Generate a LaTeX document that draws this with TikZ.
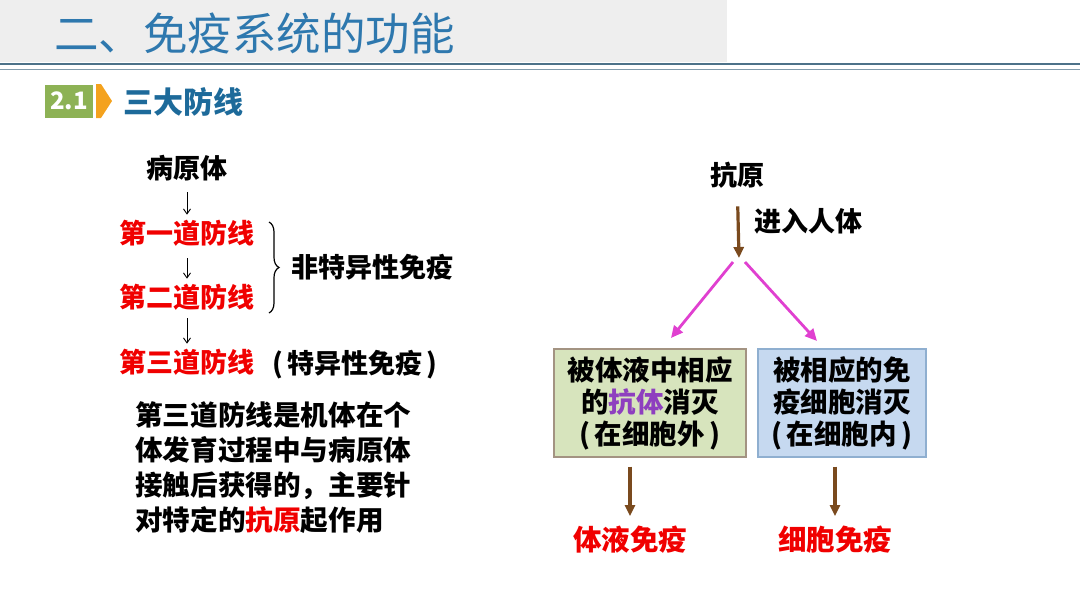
\documentclass[tikz,border=0pt]{standalone}
\usepackage{fontspec}
\setmainfont{Noto Sans CJK SC}
\usetikzlibrary{arrows.meta,decorations.pathreplacing}
\definecolor{titleblue}{HTML}{2E78AE}
\definecolor{headblue}{HTML}{1D6A9A}
\definecolor{linered}{HTML}{F00000}
\definecolor{brownarrow}{HTML}{7A4A1E}
\definecolor{magentaarrow}{HTML}{E040D0}
\definecolor{greenfill}{HTML}{D7E4BD}
\definecolor{greenline}{HTML}{A39382}
\definecolor{bluefill}{HTML}{C6D9F0}
\definecolor{blueline}{HTML}{8FAFD0}
\definecolor{tagreen}{HTML}{8DB255}
\definecolor{tagorange}{HTML}{F4A21E}
\definecolor{graybar}{HTML}{EEEEEE}
\definecolor{rule}{HTML}{4D7289}
\definecolor{purpletext}{HTML}{8E3FBF}
\tikzset{
  txt/.style={inner sep=0pt, font=\fontsize{27}{32}\selectfont\bfseries},
  redtxt/.style={txt, text=linered},
  thinarrow/.style={-{Straight Barb[length=5pt,width=7pt]}, line width=0.9pt, black},
  brownarr/.style={-{Triangle[length=11pt,width=10pt]}, line width=3.2pt, brownarrow},
  magarr/.style={-{Triangle[length=12pt,width=11pt]}, line width=2.8pt, magentaarrow},
  boxnode/.style={txt, minimum width=192pt, minimum height=108pt, align=center, font=\fontsize{27.5}{32}\selectfont\bfseries, line width=1.2pt}
}
\begin{document}
\begin{tikzpicture}[x=1pt,y=-1pt]
\useasboundingbox (0,0) rectangle (1080,608);
% header
\fill[graybar] (0,0) rectangle (727,62);
\node[anchor=west, inner sep=0pt, text=titleblue, font=\fontsize{44.5}{47}\selectfont] (title) at (54,33) {二、免疫系统的功能};
\draw[rule, line width=2pt] (0,64) -- (1080,64);
\draw[rule!70, line width=0.8pt] (0,69.5) -- (1080,69.5);
% tag
\node[fill=tagreen, minimum width=48pt, minimum height=33pt, inner sep=0pt, text=white, font=\fontsize{24}{26}\selectfont\bfseries] (tag) at (69,101) {2.1};
\fill[tagorange] (96,84) -- (101,84) -- (112,101) -- (101,118) -- (96,118) -- cycle;
\node[anchor=west, inner sep=0pt, text=headblue, font=\fontsize{30}{32}\selectfont\bfseries] (head) at (123,102) {三大防线};
% left column
\node[txt] (path) at (187,168) {病原体};
\node[redtxt] (l1) at (187,233) {第一道防线};
\node[redtxt] (l2) at (187,297) {第二道防线};
\node[redtxt] (l3) at (187,362) {第三道防线};
\draw[thinarrow, shorten <=11pt, shorten >=5pt] (path) -- (l1);
\draw[thinarrow, shorten <=12pt, shorten >=5pt] (l1) -- (l2);
\draw[thinarrow, shorten <=8pt, shorten >=5pt] (l2) -- (l3);
\coordinate (bt) at (269,222);
\coordinate (bb) at (269,313);
\draw[line width=1.2pt, decorate, decoration={brace, amplitude=10pt}] (bt) -- (bb);
\node[txt, anchor=west] (nonspec) at (291,267) {非特异性免疫};
\node[txt, anchor=west] (spec) at (272,365) {(\,特异性免疫\,)};
\node[txt, anchor=north west, align=left, font=\fontsize{27.6}{35}\selectfont\bfseries] (para) at (135,401)
  {第三道防线是机体在个\\体发育过程中与病原体\\接触后获得的，主要针\\对特定的\textcolor{linered}{抗原}起作用};
% right column
\node[txt] (ag) at (737,175) {抗原};
\coordinate (split) at (739,258);
\draw[brownarr, shorten <=18pt] (ag) -- (split);
\node[txt, anchor=west] (enter) at (754,221) {进入人体};
\node[boxnode, fill=greenfill, draw=greenline] (hum) at (650,403) {被体液中相应\\的\textcolor{purpletext}{抗体}消灭\\(\,在细胞外\,)};
\node[boxnode, fill=bluefill, draw=blueline, minimum width=168pt] (cel) at (842,403) {被相应的免\\疫细胞消灭\\(\,在细胞内\,)};
\coordinate (sl) at (733,262);
\coordinate (sr) at (745,262);
\coordinate (tl) at (671,338);
\coordinate (tr) at (817,341);
\draw[magarr] (sl) -- (tl);
\draw[magarr] (sr) -- (tr);
\node[redtxt, font=\fontsize{28.5}{32}\selectfont\bfseries] (humi) at (630,540) {体液免疫};
\node[redtxt, font=\fontsize{28.5}{32}\selectfont\bfseries] (celi) at (835,540) {细胞免疫};
\draw[brownarr, shorten <=9pt, shorten >=10pt] (hum.south -| humi) -- (humi);
\draw[brownarr, shorten <=9pt, shorten >=10pt] (cel.south -| celi) -- (celi);
\end{tikzpicture}
\end{document}
